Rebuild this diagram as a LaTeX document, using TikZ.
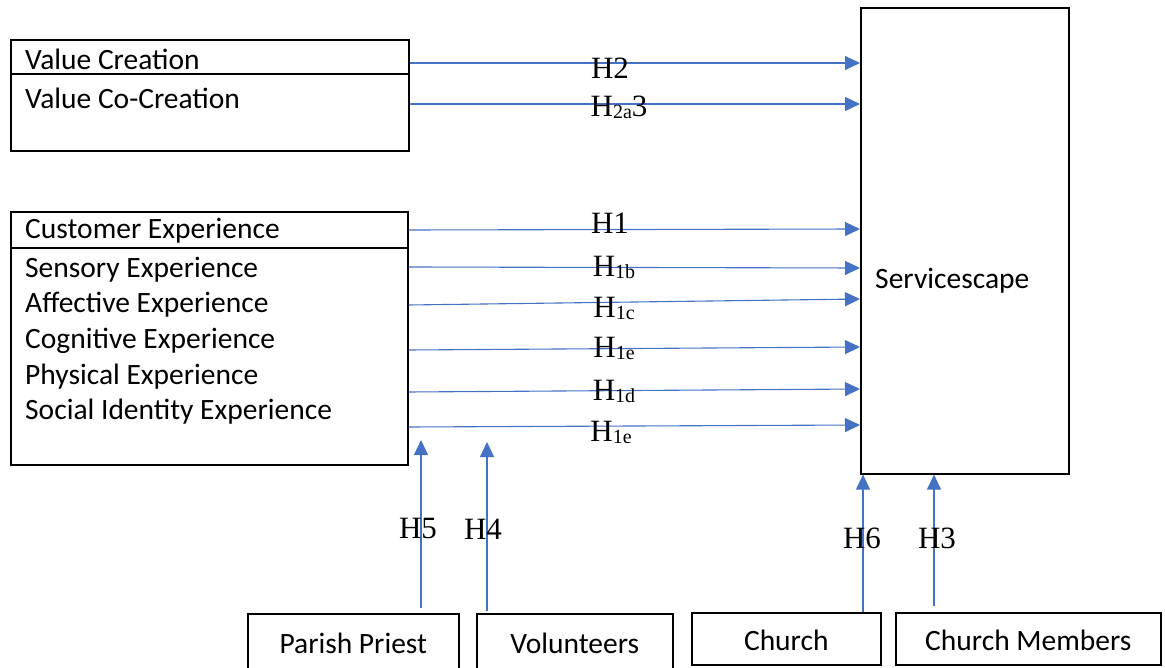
\documentclass[tikz,border=0pt]{standalone}
\usepackage{fontspec}
\setmainfont{Liberation Serif}
\newfontfamily\boxfont{Carlito}
\usetikzlibrary{arrows.meta,calc}
\definecolor{linkblue}{RGB}{68,114,196}

\newcommand{\hyp}[2]{H\raisebox{-2pt}{\fontsize{20}{20}\selectfont #1}#2}

\begin{document}
\begin{tikzpicture}[x=1pt,y=-1pt,
  box/.style={draw=black, line width=1.6pt, inner sep=0pt, anchor=north west},
  rule/.style={draw=black, line width=1.6pt},
  item/.style={font=\boxfont\fontsize{29.5}{31}\selectfont, anchor=west, inner sep=0pt},
  row/.style={item, yshift=-2pt},
  tag/.style={font=\fontsize{31}{32}\selectfont, inner sep=0pt},
  link/.style={draw=linkblue, line width=1.1pt, -{Triangle[length=15pt,width=14pt]}}]

\useasboundingbox (0,0) rectangle (1165,668);

% Value box
\node[box, minimum width=398pt, minimum height=111pt] (vbox) at (10,39) {};
\draw[rule] (10,74) -- (408,74);
\node[row] (vc)  at (25,57) {Value Creation};
\node[row] (vcc) at (25,96) {Value Co-Creation};

% Experience box
\node[box, minimum width=397pt, minimum height=253pt] (ebox) at (10,211) {};
\draw[rule] (10,248) -- (407,248);
\node[row] (ce)  at (25,229) {Customer Experience};
\node[row] (se)  at (25,268) {Sensory Experience};
\node[row] (ae)  at (25,303) {Affective Experience};
\node[row] (cge) at (25,339) {Cognitive Experience};
\node[row] (pe)  at (25,375) {Physical Experience};
\node[row] (sie) at (25,410) {Social Identity Experience};

% Servicescape
\node[box, minimum width=208pt, minimum height=466pt] (sv) at (860,7) {};
\node[row] (svt) at (875,279) {Servicescape};

% Bottom actors
\node[box, minimum width=211pt, minimum height=56pt] (pp)  at (247,613) {};
\node[item, anchor=center] at ([yshift=-2pt]pp.center) {Parish Priest};
\node[box, minimum width=196pt, minimum height=56pt] (vol) at (476,613) {};
\node[item, anchor=center] at ([yshift=-2pt]vol.center) {Volunteers};
\node[box, minimum width=189pt, minimum height=52pt] (ch)  at (691,612) {};
\node[item, anchor=center] at ([yshift=-2pt]ch.center) {Church};
\node[box, minimum width=265pt, minimum height=52pt] (cm)  at (895,612) {};
\node[item, anchor=center] at ([yshift=-2pt]cm.center) {Church Members};

% Horizontal hypotheses into the servicescape
\draw[link] (vbox.east |- {(0,63)})  -- (sv.west |- {(0,63)});
\draw[link] (vbox.east |- {(0,104)}) -- (sv.west |- {(0,104)});
\draw[link] (ebox.east |- {(0,230)}) -- (sv.west |- {(0,229)});
\draw[link] (ebox.east |- {(0,267)}) -- (sv.west |- {(0,268)});
\draw[link] (ebox.east |- {(0,305)}) -- (sv.west |- {(0,299)});
\draw[link] (ebox.east |- {(0,350)}) -- (sv.west |- {(0,347)});
\draw[link] (ebox.east |- {(0,392)}) -- (sv.west |- {(0,389)});
\draw[link] (ebox.east |- {(0,427)}) -- (sv.west |- {(0,425)});

\node[tag] (h2)   at (610,68)  {H2};
\node[tag] (h2a3) at (619,107) {\hyp{2a}{3}};
\node[tag] (h1)   at (610,223) {H1};
\node[tag] (h1b)  at (614,267) {\hyp{1b}{}};
\node[tag] (h1c)  at (614,308) {\hyp{1c}{}};
\node[tag] (h1e1) at (614,348) {\hyp{1e}{}};
\node[tag] (h1d)  at (614,391) {\hyp{1d}{}};
\node[tag] (h1e2) at (611,432) {\hyp{1e}{}};

% Vertical hypotheses from the actors
\coordinate (t5) at (421,440);
\coordinate (t4) at (487,442);
\draw[link] ([yshift=5pt]pp.north -| t5)  -- (t5);
\draw[link] ([yshift=2pt]vol.north -| t4) -- (t4);
\draw[link] (ch.north -| {(863,0)}) -- (sv.south -| {(863,0)});
\draw[link] ([yshift=6pt]cm.north -| {(934,0)}) -- (sv.south -| {(934,0)});

\node[tag] (h5) at (418,529) {H5};
\node[tag] (h4) at (483,529) {H4};
\node[tag] (h6) at (862,538) {H6};
\node[tag] (h3) at (937,538) {H3};
\end{tikzpicture}
\end{document}
